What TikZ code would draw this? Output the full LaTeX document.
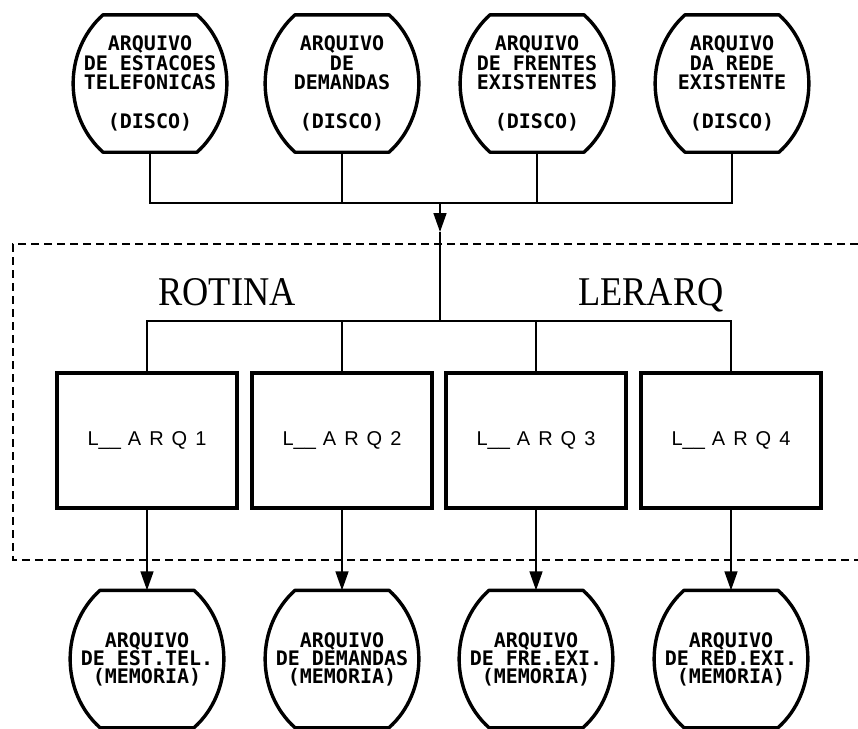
\documentclass[tikz,border=0pt]{standalone}
\usepackage{fontspec}
\usepackage{tikz}
\usetikzlibrary{arrows.meta, positioning, calc}
\newfontfamily\discfont{DejaVu Sans Mono}
\newfontfamily\rotfont[LetterSpace=40]{Liberation Sans}
\newfontfamily\titfont{Liberation Serif}
\newcommand{\uline}{{\addfontfeature{LetterSpace=0}\_\_}\kern 7pt}

\begin{document}
\begin{tikzpicture}[x=1pt,y=1pt,>={Triangle[length=19pt,width=13pt]},
  file/.style={minimum width=156pt, minimum height=137pt, inner sep=0pt, align=center,
    font=\discfont\bfseries\fontsize{20}{19.5}\selectfont},
  memfile/.style={file, font=\discfont\bfseries\fontsize{20}{18}\selectfont},
  rotbox/.style={draw, line width=3.4pt, minimum width=180pt, minimum height=135pt,
    inner sep=0pt, font=\rotfont\fontsize{20}{20}\selectfont},
  outline/.style={line width=3.4pt, line join=round},
  link/.style={line width=1.6pt},
  frame/.style={line width=1.5pt, dash pattern=on 8pt off 5pt},
  title/.style={font=\titfont\fontsize{40.8}{40.8}\selectfont, xscale=0.89, anchor=base}]

\useasboundingbox (0,0) rectangle (858,-728);

% Disk files
\node[file] (d1) at (150,-83.5) {ARQUIVO\\DE ESTACOES\\TELEFONICAS\\[19.5pt](DISCO)};
\node[file] (d2) at (342,-83.5) {ARQUIVO\\DE\\DEMANDAS\\[19.5pt](DISCO)};
\node[file] (d3) at (537,-83.5) {ARQUIVO\\DE FRENTES\\EXISTENTES\\[19.5pt](DISCO)};
\node[file] (d4) at (732,-83.5) {ARQUIVO\\DA REDE\\EXISTENTE\\[19.5pt](DISCO)};

% Routine frame
\draw[frame] (858,-244) -| (13,-560) -- (858,-560);
\node[title] (rot) at (227,-305) {ROTINA};
\node[title] (ler) at (651,-305) {LERARQ};

% Reading routines
\node[rotbox] (b1) at (147,-440.5) {L\uline ARQ1};
\node[rotbox] (b2) at (342,-440.5) {L\uline ARQ2};
\node[rotbox] (b3) at (536,-440.5) {L\uline ARQ3};
\node[rotbox] (b4) at (731,-440.5) {L\uline ARQ4};

% Memory files
\node[memfile] (m1) at (147,-659) {ARQUIVO\\DE EST.TEL.\\(MEMORIA)};
\node[memfile] (m2) at (342,-659) {ARQUIVO\\DE DEMANDAS\\(MEMORIA)};
\node[memfile] (m3) at (536,-659) {ARQUIVO\\DE FRE.EXI.\\(MEMORIA)};
\node[memfile] (m4) at (731,-659) {ARQUIVO\\DE RED.EXI.\\(MEMORIA)};

% Barrel outlines
\foreach \n in {d1,d2,d3,d4,m1,m2,m3,m4}
  \draw[outline] ([xshift=-47pt]\n.north) -- ([xshift=47pt]\n.north)
    to[out=-42,in=42] ([xshift=47pt]\n.south) -- ([xshift=-47pt]\n.south)
    to[out=138,in=-138] ([xshift=-47pt]\n.north) -- cycle;

% Connectors
\coordinate (top) at (440,-203);
\coordinate (tip) at (440,-232);
\coordinate (split) at (440,-321);
\foreach \i in {1,...,4}
  \draw[link] (d\i.south) |- (top);
\draw[link,->] (top) -- (tip);
\draw[link] (tip) -- (split);
\foreach \i in {1,...,4} {
  \draw[link] (split) -| (b\i.north);
  \draw[link,->] (b\i.south) -- (m\i.north);
}

\end{tikzpicture}
\end{document}
